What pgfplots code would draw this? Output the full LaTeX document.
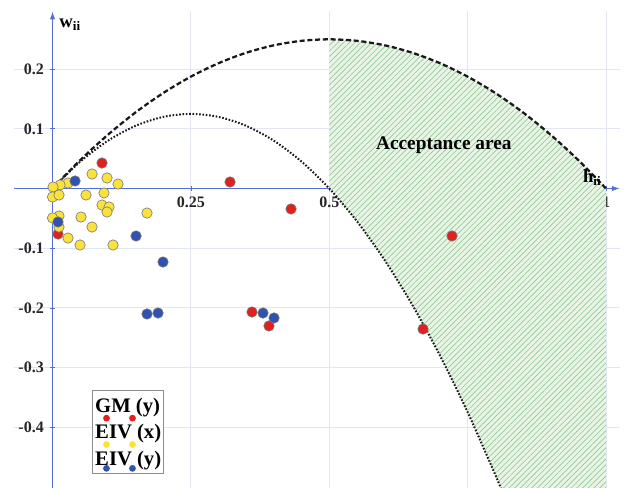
\documentclass[border=0pt]{standalone}
\usepackage{fontspec}
\setmainfont{Liberation Serif}
\usepackage{pgfplots}
\pgfplotsset{compat=1.18}
\usetikzlibrary{patterns.meta,arrows.meta}
\definecolor{axisblue}{RGB}{85,110,215}
\definecolor{gridc}{RGB}{226,229,242}
\definecolor{hatchbg}{RGB}{232,244,230}
\definecolor{hatchln}{RGB}{150,200,150}
\definecolor{ptred}{RGB}{228,32,30}
\definecolor{ptyel}{RGB}{250,226,60}
\definecolor{ptblue}{RGB}{48,82,180}
\pgfplotsset{layers/mylayers/.define layer set={axis background,axis grid,pre main,main,axis ticks,axis lines,axis tick labels,axis descriptions,axis foreground}{}}
\begin{document}
\begin{tikzpicture}
\begin{axis}[
  set layers=mylayers,
  scale only axis, width=454.6pt, height=357.6pt,
  xmin=-0.07, xmax=1.025, ymin=-0.502, ymax=0.297,
  axis lines=middle,
  axis line style={axisblue, line width=0.8pt, -{Latex[length=6pt,width=4pt]}},
  xtick={0.25,0.5,0.75,1}, xticklabels={0.25,0.5,0.75,1},
  ytick={-0.4,-0.3,-0.2,-0.1,0.1,0.2}, yticklabels={-0.4,-0.3,-0.2,-0.1,0.1,0.2},
  grid=major, grid style={gridc, line width=0.6pt},
  tick style={axisblue, line width=0.5pt}, major tick length=4pt,
  tick label style={font=\bfseries\fontsize{12}{12}\selectfont, text=black!85},
  xticklabel style={yshift=-1pt},
  yticklabel style={xshift=-1pt},
  legend style={at={(0.1291,0.2056)}, anchor=north west, draw=black!45, line width=0.6pt, fill=white,
    inner xsep=1pt, inner ysep=-5pt, row sep=-4.5pt,
    nodes={inner sep=0.5pt, text depth=0.22em},
    font=\bfseries\fontsize{15.5}{15.5}\selectfont},
  legend cell align=left,
]
% acceptance area
\addplot[draw=none, fill=hatchbg, forget plot,
  postaction={pattern={Lines[angle=45,distance=3pt,line width=0.5pt]}, pattern color=hatchln}]
  coordinates {(0.5,0.25)(0.525,0.249375)(0.55,0.2475)(0.575,0.244375)(0.6,0.24)(0.625,0.234375)
  (0.65,0.2275)(0.675,0.219375)(0.7,0.21)(0.725,0.199375)(0.75,0.1875)(0.775,0.174375)(0.8,0.16)
  (0.825,0.144375)(0.85,0.1275)(0.875,0.109375)(0.9,0.09)(0.925,0.069375)(0.95,0.0475)(0.975,0.024375)(1,0)
  (1,-0.54)(0.825,-0.53625)(0.8,-0.48)(0.775,-0.42625)(0.75,-0.375)(0.725,-0.32625)(0.7,-0.28)
  (0.675,-0.23625)(0.65,-0.195)(0.625,-0.15625)(0.6,-0.12)(0.575,-0.08625)(0.55,-0.055)(0.525,-0.02625)(0.5,0)} --cycle;
% dashed curve
\addplot[black!90, line width=1.7pt, dash pattern=on 3.8pt off 2pt, smooth, forget plot]
  coordinates {(0,0)(0.05,0.0475)(0.1,0.09)(0.15,0.1275)(0.2,0.16)(0.25,0.1875)(0.3,0.21)(0.35,0.2275)
  (0.4,0.24)(0.45,0.2475)(0.5,0.25)(0.55,0.2475)(0.6,0.24)(0.65,0.2275)(0.7,0.21)(0.75,0.1875)
  (0.8,0.16)(0.85,0.1275)(0.9,0.09)(0.95,0.0475)(1,0)};
% dotted curve
\addplot[black!90, line width=1.5pt, dash pattern=on 1.2pt off 1.3pt, smooth, forget plot]
  coordinates {(0,0)(0.05,0.045)(0.1,0.08)(0.15,0.105)(0.2,0.12)(0.25,0.125)(0.3,0.12)(0.35,0.105)
  (0.4,0.08)(0.45,0.045)(0.5,0)(0.55,-0.055)(0.6,-0.12)(0.65,-0.195)(0.7,-0.28)(0.75,-0.375)
  (0.8,-0.48)(0.825,-0.53625)};
% GM (y)
\addplot[only marks, mark=*, mark size=3.9pt, mark options={fill=ptred, draw=black!55, line width=0.5pt},
  legend image code/.code={\path (0,0);\fill[ptred,overlay] (9.25pt,-8.5pt) circle[radius=2.2pt] (28.75pt,-8.5pt) circle[radius=2.2pt];}]
  coordinates {(0.0894,0.0427)(0.3207,0.0109)(0.4309,-0.0343)(0.7218,-0.0796)(0.3604,-0.2070)
  (0.3911,-0.2304)(0.6694,-0.2355)(0.0099,-0.0763)};
\addlegendentry{GM (y)}
% EIV (x)
\addplot[only marks, mark=*, mark size=3.9pt, mark options={fill=ptyel, draw=black!50, line width=0.5pt},
  legend image code/.code={\path (0,0);\fill[ptyel,overlay] (9.25pt,-8.5pt) circle[radius=2.2pt] (28.75pt,-8.5pt) circle[radius=2.2pt];}]
  coordinates {(0.0714,0.0243)(0.0985,0.0176)(0.1183,0.0075)(0.0280,0.0092)(0.0136,0.0059)(0.0009,0.0025)
  (0.0,-0.0142)(0.0117,-0.0109)(0.0605,-0.0109)(0.0930,-0.0075)(0.0894,-0.0277)(0.1021,-0.0310)
  (0.0985,-0.0394)(0.1707,-0.0411)(0.0515,-0.0478)(0.0117,-0.0461)(0.0,-0.0494)(0.0117,-0.0645)
  (0.0714,-0.0645)(0.0280,-0.0830)(0.0497,-0.0947)(0.1093,-0.0947)};
\addlegendentry{EIV (x)}
% EIV (y)
\addplot[only marks, mark=*, mark size=3.9pt, mark options={fill=ptblue, draw=black!55, line width=0.5pt},
  legend image code/.code={\path (0,0);\fill[ptblue,overlay] (9.25pt,-6.6pt) circle[radius=2.2pt] (28.75pt,-6.6pt) circle[radius=2.2pt];}]
  coordinates {(0.0407,0.0126)(0.0099,-0.0561)(0.1509,-0.0796)(0.1996,-0.1232)(0.1707,-0.2103)
  (0.1906,-0.2087)(0.3803,-0.2087)(0.4002,-0.2170)};
\addlegendentry[text depth=10.2pt, yshift=-4.5pt]{EIV (y)}
\node[font=\bfseries\fontsize{14.5}{14.5}\selectfont] at (axis cs:0.707,0.0729) {Acceptance area};
\node[anchor=base west, font=\bfseries\fontsize{14}{14}\selectfont, inner sep=0pt] at (axis cs:0.012,0.27) {w\textsubscript{ii}};
\node[anchor=base west, font=\bfseries\fontsize{14}{14}\selectfont, inner sep=0pt] at (axis cs:0.958,0.01) {h\textsubscript{ii}};
\coordinate (BL) at (axis cs:-0.0949,-0.5019);
\coordinate (TR) at (axis cs:1.0578,0.3159);
\end{axis}
\pgfresetboundingbox
\path[use as bounding box] (BL) rectangle (TR);
\end{tikzpicture}
\end{document}
